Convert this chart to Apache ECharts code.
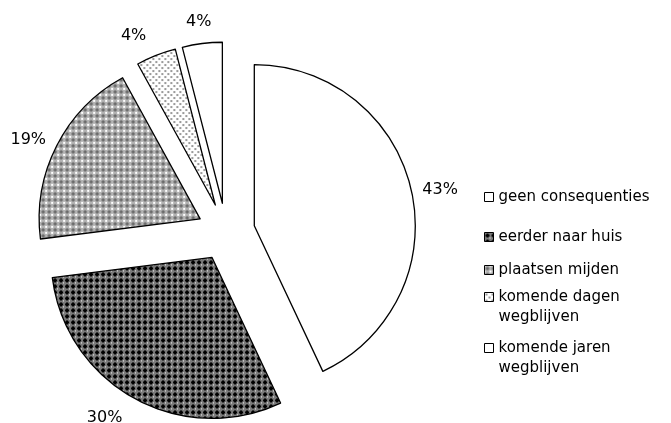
<!DOCTYPE html>
<html>
<head>
<meta charset="utf-8">
<script src="https://cdn.jsdelivr.net/npm/echarts@6/dist/echarts.min.js"></script>
<style>
  html, body { margin: 0; padding: 0; background: #fff; }
  #chart { width: 671px; height: 423px; }
</style>
</head>
<body>
<div id="chart"></div>
<script>
// Consequences, share of respondents (%)
const categories = [
  'geen consequenties',
  'eerder naar huis',
  'plaatsen mijden',
  'komende dagen wegblijven',
  'komende jaren wegblijven'
];
const shares = [43, 30, 19, 4, 4];
const legendLabels = [
  'geen consequenties',
  'eerder naar huis',
  'plaatsen mijden',
  'komende dagen\nwegblijven',
  'komende jaren\nwegblijven'
];

// Small repeating tiles used as hatch fills
function tile(size, bg, draw) {
  const c = document.createElement('canvas');
  c.width = size; c.height = size;
  const g = c.getContext('2d');
  g.fillStyle = bg; g.fillRect(0, 0, size, size);
  draw(g);
  return { image: c, repeat: 'repeat' };
}
const fillDark = tile(6, '#7a7a7a', g => {
  g.fillStyle = '#000';
  g.fillRect(2, 1, 2, 4); g.fillRect(1, 2, 4, 2);
  g.fillStyle = '#fff';
  g.fillRect(5, 5, 1, 1);
});
const fillMedium = tile(6, '#b4b4b4', g => {
  g.fillStyle = '#6a6a6a';
  g.fillRect(2, 2, 2, 2);
  g.fillStyle = '#8c8c8c';
  g.fillRect(1, 2, 1, 2); g.fillRect(4, 2, 1, 2); g.fillRect(2, 1, 2, 1); g.fillRect(2, 4, 2, 1);
  g.fillStyle = '#fff';
  g.fillRect(5, 5, 1, 1); g.fillRect(0, 5, 1, 1); g.fillRect(5, 0, 1, 1); g.fillRect(0, 0, 1, 1);
});
const fillDots = tile(6, '#fff', g => {
  g.fillStyle = '#9a9a9a';
  g.fillRect(1, 1, 2, 2); g.fillRect(4, 4, 2, 2);
});
const fills = ['#fff', fillDark, fillMedium, fillDots, '#fff'];

// Per-slice label placement along the radial direction
const labelLen = [5, 22, 12, 21, 22];
const labelLen2 = [1, 0, 0, 0, -12];
const labelDist = [5, 1.5, 0, 2, 0];

const data = categories.map((name, i) => ({
  name,
  value: shares[i],
  selected: true,
  itemStyle: { color: fills[i] },
  label: { distanceToLabelLine: labelDist[i] },
  labelLine: { length: labelLen[i], length2: labelLen2[i] }
}));

const font = 'DejaVu Sans';
// Two-line entries get a blank leading line so the swatch sits beside the first line
const legendTops = [187, 227, 260, 267, 318];
const legends = categories.map((name, i) => ({
  data: [name],
  left: 484,
  top: legendTops[i],
  orient: 'vertical',
  padding: 0,
  icon: 'rect',
  itemWidth: 9,
  itemHeight: 9,
  selectedMode: false,
  itemStyle: { borderColor: '#000', borderWidth: 1 },
  formatter: n => {
    const t = legendLabels[categories.indexOf(n)];
    return t.indexOf('\n') >= 0 ? ' \n' + t : t;
  },
  textStyle: { fontFamily: font, fontSize: 15, color: '#000', lineHeight: 20 }
}));

const chart = echarts.init(document.getElementById('chart'), null, { renderer: 'canvas' });
chart.setOption({
  animation: false,
  backgroundColor: '#fff',
  legend: legends,
  series: [{
    type: 'pie',
    center: [226, 232],
    radius: 161,
    startAngle: 90,
    clockwise: true,
    selectedMode: 'multiple',
    selectedOffset: 29,
    avoidLabelOverlap: false,
    itemStyle: { borderColor: '#000', borderWidth: 1.3 },
    emphasis: { disabled: true },
    label: {
      show: true,
      position: 'outside',
      formatter: '{c}%',
      fontFamily: font,
      fontSize: 16,
      color: '#000'
    },
    labelLine: { show: false },
    data
  }]
});
</script>
</body>
</html>
